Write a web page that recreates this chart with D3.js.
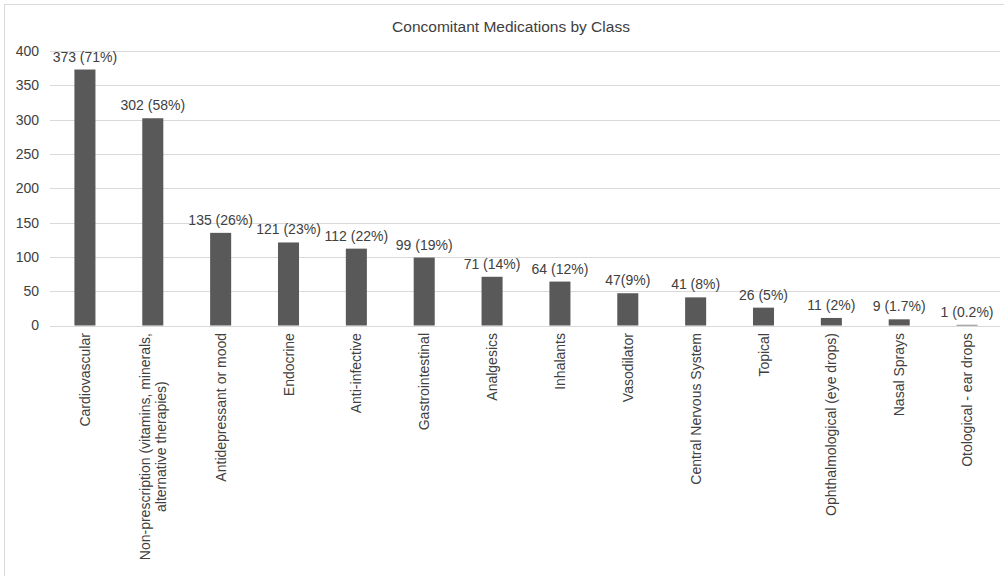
<!DOCTYPE html>
<html>
<head>
<meta charset="utf-8">
<script src="https://cdn.jsdelivr.net/npm/d3@7"></script>
<style>
    body { margin: 0; background: #fff; }
    svg { display: block; font-family: "Liberation Sans", Arial, sans-serif; }
</style>
</head>
<body>
<div class="viewport"></div>
<script>
var categories = [
    "Cardiovascular",
    "Non-prescription (vitamins, minerals,|alternative therapies)",
    "Antidepressant or mood",
    "Endocrine",
    "Anti-infective",
    "Gastrointestinal",
    "Analgesics",
    "Inhalants",
    "Vasodilator",
    "Central Nervous System",
    "Topical",
    "Ophthalmological (eye drops)",
    "Nasal Sprays",
    "Otological - ear drops"
];
var counts = [373, 302, 135, 121, 112, 99, 71, 64, 47, 41, 26, 11, 9, 1];
var percentLabels = ["(71%)", "(58%)", "(26%)", "(23%)", "(22%)", "(19%)", "(14%)", "(12%)", "(9%)", "(8%)", "(5%)", "(2%)", "(1.7%)", "(0.2%)"];
var yTicks = [0, 50, 100, 150, 200, 250, 300, 350, 400];

var width = 1004,
    height = 576;

var svg = d3.select(".viewport").append("svg")
    .attr("width", width)
    .attr("height", height);

// chart frame
svg.append("rect")
    .attr("x", 4.5).attr("y", 4.5)
    .attr("width", width + 10).attr("height", height + 10)
    .attr("fill", "none")
    .attr("stroke", "#d9d9d9");

svg.append("text")
    .attr("x", 511).attr("y", 32)
    .attr("text-anchor", "middle")
    .attr("font-size", 15.5)
    .attr("fill", "#404040")
    .text("Concomitant Medications by Class");

var x = d3.scaleBand()
    .domain(categories)
    .range([51, 1001])
    .paddingInner(0.69)
    .paddingOuter(0.345);

var y = d3.scaleLinear()
    .domain([0, 400])
    .range([325.5, 51]);

// gridlines
svg.append("g")
    .selectAll("line")
    .data(yTicks)
    .enter().append("line")
    .attr("x1", 50).attr("x2", 1000)
    .attr("y1", function(d) { return Math.round(y(d)) + 0.5; })
    .attr("y2", function(d) { return Math.round(y(d)) + 0.5; })
    .attr("stroke", "#d9d9d9")
    .attr("stroke-width", 1);

// y axis labels
var yAxis = svg.append("g")
    .attr("transform", "translate(43,0)")
    .call(d3.axisLeft(y).tickValues(yTicks).tickSize(0).tickPadding(4));
yAxis.select(".domain").remove();
yAxis.selectAll("text")
    .attr("font-size", 14)
    .attr("font-family", "Liberation Sans, Arial, sans-serif")
    .attr("fill", "#404040");

// bars
svg.append("g")
    .selectAll("rect")
    .data(counts)
    .enter().append("rect")
    .attr("x", function(d, i) { return x(categories[i]); })
    .attr("y", function(d) { return y(d); })
    .attr("width", x.bandwidth())
    .attr("height", function(d) { return y(0) - y(d); })
    .attr("fill", "#595959");

// value labels
svg.append("g")
    .selectAll("text")
    .data(counts)
    .enter().append("text")
    .attr("x", function(d, i) { return x(categories[i]) + x.bandwidth() / 2; })
    .attr("y", function(d) { return y(d) - 8; })
    .attr("text-anchor", "middle")
    .attr("font-size", 14)
    .attr("fill", "#404040")
    .text(function(d, i) { return d + (d === 47 ? "" : " ") + percentLabels[i]; });

// category labels, rotated
var cat = svg.append("g")
    .selectAll("text")
    .data(categories)
    .enter().append("text")
    .attr("transform", function(d) {
        return "translate(" + (x(d) + x.bandwidth() / 2) + ",333) rotate(-90)";
    })
    .attr("text-anchor", "middle")
    .attr("font-size", 14)
    .attr("fill", "#404040");

cat.each(function(d) {
    var lines = d.split("|");
    var node = d3.select(this);
    lines.forEach(function(l, k) {
        node.append("tspan")
            .attr("x", 0)
            .attr("y", (k - (lines.length - 1) / 2) * 16 + 5)
            .text(l);
    });
});

// shift each label so its end sits just below the axis
cat.each(function() {
    var bb = this.getBBox();
    var node = d3.select(this);
    var t = node.attr("transform");
    node.attr("transform", t + " translate(" + (-bb.width / 2) + ",0)");
});
</script>
</body>
</html>
